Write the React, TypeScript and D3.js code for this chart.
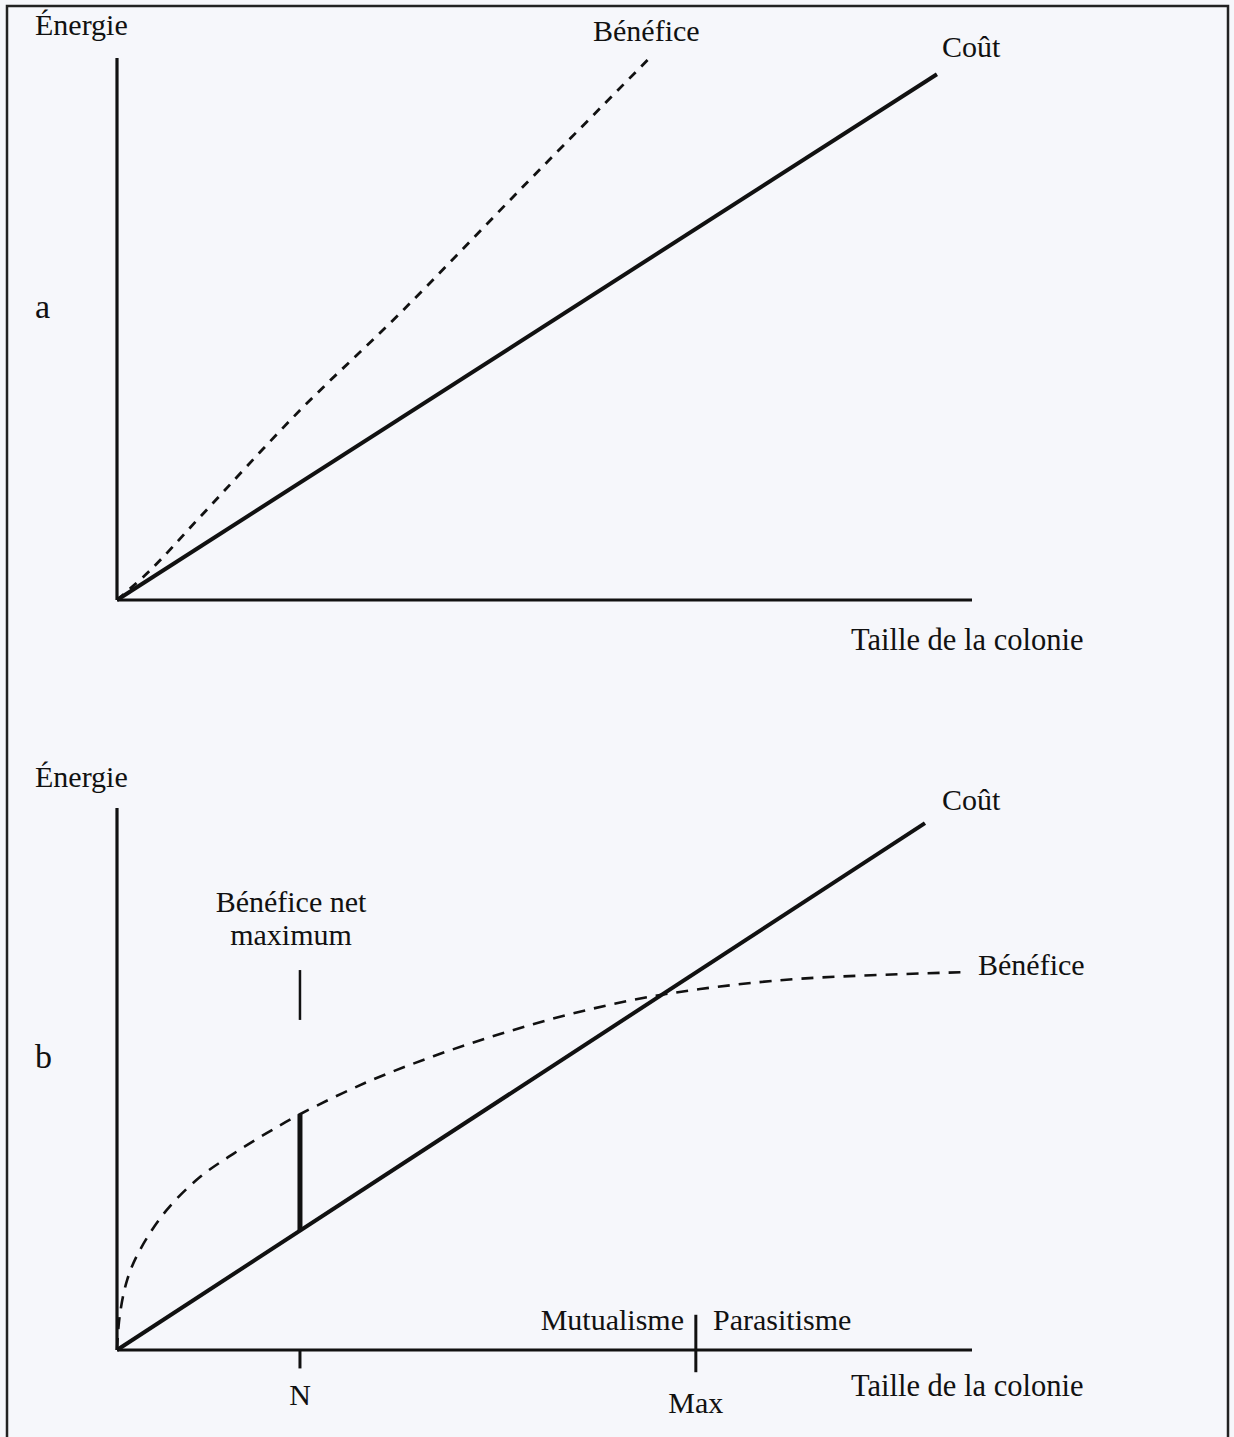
import React from "react";
import * as d3 from "d3";

// ---- Data (arbitrary energy / size units, 0..100) ----
const costA: [number, number][] = [[0, 0], [95.9, 97.0]];
const benefitA: [number, number][] = [
  [0, 0], [3.9, 5.5], [9.7, 15.3], [21.4, 35.0], [33.1, 52.9], [47.7, 76.6], [62.6, 100.5],
];
const costB: [number, number][] = [[0, 0], [94.5, 97.2]];
const benefitB: [number, number][] = [
  [0, 0], [0.3, 6.1], [1.2, 13.0], [2.7, 18.5], [5.8, 25.8], [9.7, 31.9], [13.6, 36.2],
  [17.5, 40.0], [21.4, 43.5], [29.2, 49.4], [37.0, 54.2], [44.8, 58.3], [52.6, 61.8],
  [60.4, 64.6], [68.2, 66.6], [79.9, 68.5], [98.8, 69.7],
];
const nValue = 21.4;
const maxValue = 67.7;
const xAxisLabel = "Taille de la colonie";
const yAxisLabel = "Énergie";
const costLabel = "Coût";
const benefitLabel = "Bénéfice";
const netLabel = ["Bénéfice net", "maximum"];
const tickLabels = ["N", "Max"];
const zoneLabels = ["Mutualisme", "Parasitisme"];
const panelLetters = ["a", "b"];

const W = 1234;
const H = 1437;
const FONT = "'Liberation Serif', 'Times New Roman', serif";
const INK = "#111";

function interp(data: [number, number][], x: number) {
  for (let i = 1; i < data.length; i++) {
    if (x <= data[i][0]) {
      const [x0, y0] = data[i - 1];
      const [x1, y1] = data[i];
      return y0 + ((x - x0) / (x1 - x0)) * (y1 - y0);
    }
  }
  return data[data.length - 1][1];
}

export default function App() {
  const x = d3.scaleLinear().domain([0, 100]).range([117, 972]);
  const yA = d3.scaleLinear().domain([0, 100]).range([600, 58]);
  const yB = d3.scaleLinear().domain([0, 100]).range([1350, 808]);

  const lineA = d3.line<[number, number]>().x((d) => x(d[0])).y((d) => yA(d[1])).curve(d3.curveCatmullRom.alpha(0.5));
  const lineB = d3.line<[number, number]>().x((d) => x(d[0])).y((d) => yB(d[1])).curve(d3.curveCatmullRom.alpha(0.5));
  const straightA = d3.line<[number, number]>().x((d) => x(d[0])).y((d) => yA(d[1]));
  const straightB = d3.line<[number, number]>().x((d) => x(d[0])).y((d) => yB(d[1]));

  const fs = 30;
  const txt = (props: any, s: string) => (
    <text fontFamily={FONT} fontSize={fs} fill={INK} {...props}>{s}</text>
  );

  const costAtN = (costB[1][1] / costB[1][0]) * nValue;
  const benAtN = interp(benefitB, nValue);

  return (
    <div style={{ position: "absolute", left: 0, top: 0 }}>
      <svg width={W} height={H} style={{ display: "block", background: "#f6f7fb" }}>
        <rect x={7} y={6} width={1221} height={1440} fill="none" stroke="#222" strokeWidth={2.5} />

        {/* Panel a */}
        <line x1={x(0)} y1={yA(0)} x2={x(0)} y2={yA(100)} stroke={INK} strokeWidth={3.2} />
        <line x1={x(0)} y1={yA(0)} x2={x(100)} y2={yA(0)} stroke={INK} strokeWidth={3.2} />
        <path d={straightA(costA) || ""} fill="none" stroke={INK} strokeWidth={4} />
        <path d={lineA(benefitA) || ""} fill="none" stroke={INK} strokeWidth={2.8} strokeDasharray="9 8" />
        {txt({ x: 35, y: 35 }, yAxisLabel)}
        {txt({ x: 593, y: 41 }, benefitLabel)}
        {txt({ x: 942, y: 57 }, costLabel)}
        {txt({ x: 35, y: 318, fontSize: 34 }, panelLetters[0])}
        {txt({ x: 851, y: 650, fontSize: 30.5 }, xAxisLabel)}

        {/* Panel b */}
        <line x1={x(0)} y1={yB(0)} x2={x(0)} y2={yB(100)} stroke={INK} strokeWidth={3.2} />
        <line x1={x(0)} y1={yB(0)} x2={x(100)} y2={yB(0)} stroke={INK} strokeWidth={3.2} />
        <path d={straightB(costB) || ""} fill="none" stroke={INK} strokeWidth={4} />
        <path d={lineB(benefitB) || ""} fill="none" stroke={INK} strokeWidth={2.6} strokeDasharray="12 9" />
        <line x1={x(nValue)} y1={yB(costAtN)} x2={x(nValue)} y2={yB(benAtN)} stroke={INK} strokeWidth={5} />
        <line x1={x(nValue)} y1={yB(70.1)} x2={x(nValue)} y2={yB(60.9)} stroke={INK} strokeWidth={2.5} />
        <line x1={x(nValue)} y1={yB(0)} x2={x(nValue)} y2={yB(-3.4)} stroke={INK} strokeWidth={3} />
        <line x1={x(maxValue)} y1={yB(6.5)} x2={x(maxValue)} y2={yB(-4.1)} stroke={INK} strokeWidth={3} />
        {txt({ x: 35, y: 787 }, yAxisLabel)}
        {txt({ x: 942, y: 810 }, costLabel)}
        {txt({ x: 978, y: 975 }, benefitLabel)}
        {txt({ x: 291, y: 912, textAnchor: "middle" }, netLabel[0])}
        {txt({ x: 291, y: 945, textAnchor: "middle" }, netLabel[1])}
        {txt({ x: 35, y: 1068, fontSize: 34 }, panelLetters[1])}
        {txt({ x: 684, y: 1330, textAnchor: "end" }, zoneLabels[0])}
        {txt({ x: 713, y: 1330 }, zoneLabels[1])}
        {txt({ x: x(nValue), y: 1405, textAnchor: "middle" }, tickLabels[0])}
        {txt({ x: x(maxValue), y: 1413, textAnchor: "middle" }, tickLabels[1])}
        {txt({ x: 851, y: 1396, fontSize: 30.5 }, xAxisLabel)}
      </svg>
    </div>
  );
}
